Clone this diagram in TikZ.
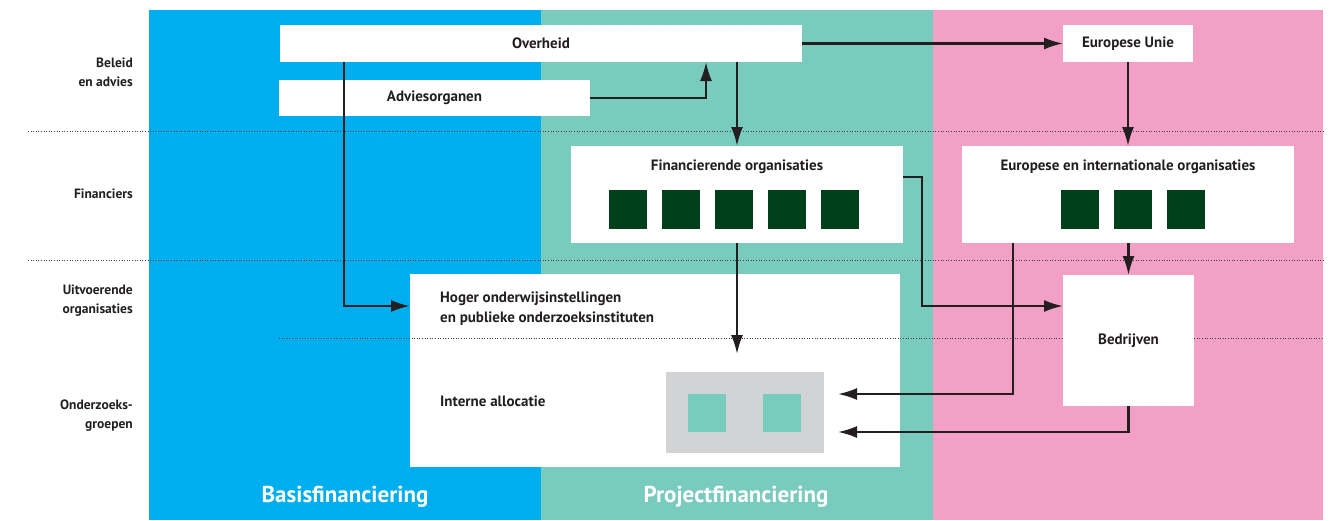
\documentclass[tikz,border=0pt]{standalone}
\usepackage{fontspec}
\setmainfont{PT Sans}
\usetikzlibrary{arrows.meta,calc}
\definecolor{cblue}{HTML}{00AEEF}
\definecolor{cteal}{HTML}{79CBBD}
\definecolor{cpink}{HTML}{F2A0C6}
\definecolor{cgreen}{HTML}{00401A}
\definecolor{cgray}{HTML}{D1D3D4}
\definecolor{cink}{HTML}{231F20}
\begin{document}
\begin{tikzpicture}[x=1pt,y=-1pt,
  box/.style={fill=white,draw=none,inner sep=0pt,outer sep=0pt,text=cink,font=\bfseries\fontsize{15}{20}\selectfont},
  txt/.style={inner sep=0pt,text=cink,font=\bfseries\fontsize{15}{20}\selectfont},
  lbl/.style={inner sep=0pt,anchor=east,align=right,text=cink,font=\bfseries\fontsize{13.5}{19}\selectfont},
  sq/.style={fill=cgreen,minimum width=38pt,minimum height=39pt,inner sep=0pt,outer sep=0pt},
  tsq/.style={fill=cteal,minimum width=38pt,minimum height=38pt,inner sep=0pt,outer sep=0pt},
  arr/.style={draw=cink,line width=2.2pt,-{Latex[length=19pt,width=12pt]}},
  sep/.style={draw=cink!85,line width=0.9pt,dash pattern=on 1pt off 1.6pt},
  colt/.style={inner sep=0pt,text=white,font=\bfseries\fontsize{23}{26}\selectfont}
]
\useasboundingbox[fill=white] (0,0) rectangle (1341,520);
% columns
\fill[cblue] (149,10) rectangle (541,520);
\fill[cteal] (541,10) rectangle (933,520);
\fill[cpink] (933,10) rectangle (1323,520);
% large white box below dotted lines
\node[box,minimum width=490pt,minimum height=193pt] (hoger) at (655,370.5) {};
% dotted separators
\draw[sep] (28,131) -- (1323,131);
\draw[sep] (28,260) -- (1323,260);
\draw[sep] (279,338) -- (1323,338);
% row labels
\node[lbl] (l1) at (133,72.5) {Beleid\\en advies};
\node[lbl] (l2) at (133,194) {Financiers};
\node[lbl] (l3) at (133,300.5) {Uitvoerende\\organisaties};
\node[lbl] (l4) at (133,415.5) {Onderzoeks-\\groepen};
% boxes
\node[box,minimum width=522pt,minimum height=37pt] (over) at (541,43.5) {Overheid};
\node[box,minimum width=311pt,minimum height=36pt] (adv) at (434.5,98) {Adviesorganen};
\node[box,minimum width=130pt,minimum height=37pt] (eu) at (1128,43.5) {Europese Unie};
\node[box,minimum width=332pt,minimum height=97pt] (fin) at (737,194.5) {};
\node[txt] (fint) at (737,167) {Financierende organisaties};
\foreach \i in {0,...,4} \node[sq] (fs\i) at (628+53*\i,209.5) {};
\node[box,minimum width=332pt,minimum height=97pt] (eio) at (1128,194.5) {};
\node[txt] (eiot) at (1128,167) {Europese en internationale organisaties};
\foreach \i in {0,...,2} \node[sq] (es\i) at (1080+53*\i,209.5) {};
\node[box,minimum width=131pt,minimum height=131pt] (bed) at (1128.5,340.5) {Bedrijven};
\node[txt,anchor=west,align=left] (hogt) at (440,309) {Hoger onderwijsinstellingen\\en publieke onderzoeksinstituten};
\node[txt,anchor=west] (intern) at (440,401) {Interne allocatie};
\node[fill=cgray,minimum width=158pt,minimum height=81pt,inner sep=0pt,outer sep=0pt] (gray) at (745,412) {};
\node[tsq] (t1) at (707,413) {};
\node[tsq] (t2) at (782,413) {};
% column titles
\node[colt] (basis) at (345,497) {Basisfinanciering};
\node[colt] (proj) at (736,497) {Projectfinanciering};
% connectors
\coordinate (alloctop) at (737,354);
\draw[arr] (over.east) -- (eu.west);
\draw[arr] (fin.north |- over.south) -- (fin.north);
\draw[arr] (adv.east) -| ($(over.south east)+(-96,0)$);
\draw[arr] ($(over.south west)+(64,0)$) |- ($(hoger.north west)+(0,32)$);
\draw[arr] (eu.south) -- (eio.north);
\draw[arr] (fin.south) -- (alloctop);
\draw[arr] ($(fin.north east)+(0,31)$) -- ++(19,0) |- ($(bed.north west)+(0,31)$);
\draw[arr] ($(eio.south west)+(51,0)$) |- ($(gray.east)+(14,-18)$);
\draw[arr] (eio.south -| bed.north) -- (bed.north);
\draw[arr] (bed.south) |- ($(gray.east)+(14,20)$);
\end{tikzpicture}
\end{document}
